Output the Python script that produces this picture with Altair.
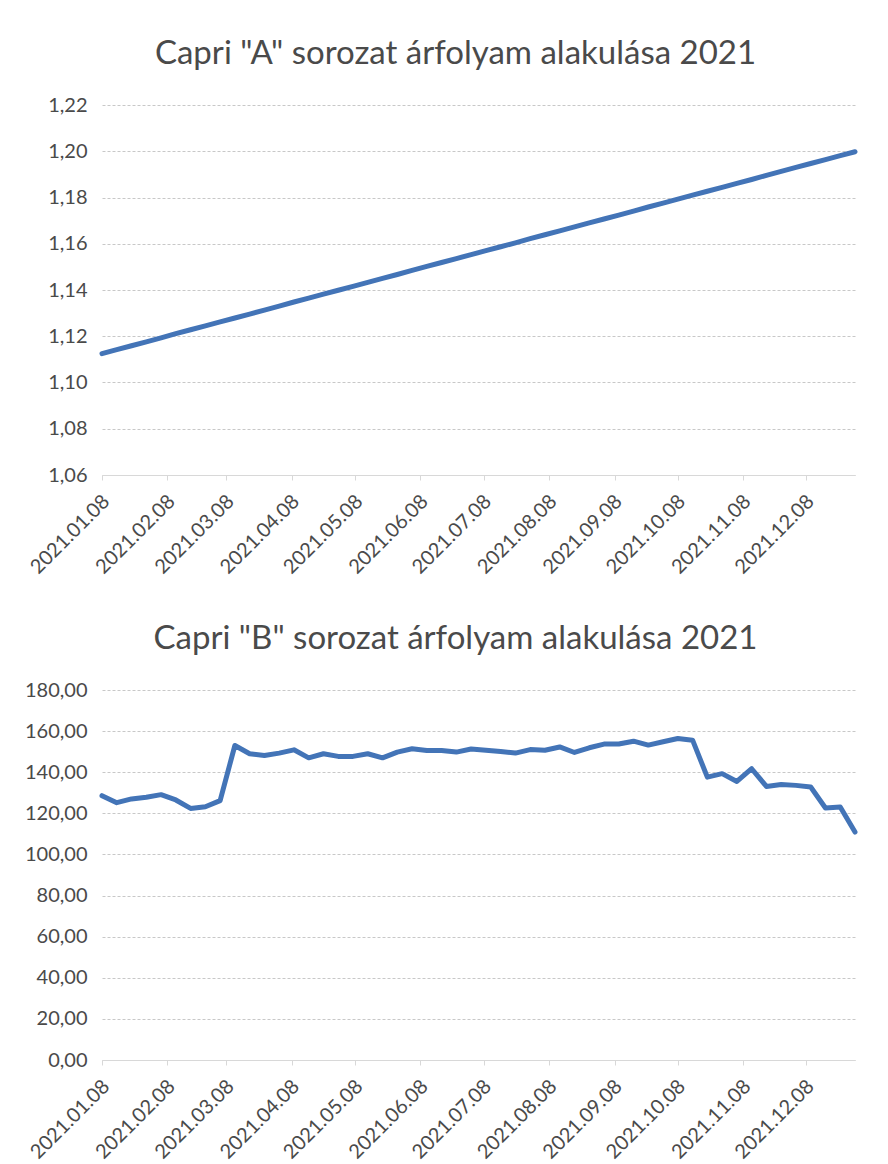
import altair as alt
import pandas as pd

# Weekly dates (Fridays) 2021-01-08 .. 2021-12-31
dates = [d.strftime("%Y-%m-%dT00:00:00") for d in pd.date_range("2021-01-08", periods=52, freq="7D")]

series_a = [
    1.1125, 1.1142, 1.1159, 1.1176, 1.1193, 1.1211, 1.1228, 1.1245, 1.1262, 1.1279,
    1.1296, 1.1313, 1.1330, 1.1348, 1.1365, 1.1382, 1.1399, 1.1416, 1.1433, 1.1450,
    1.1467, 1.1485, 1.1502, 1.1519, 1.1536, 1.1553, 1.1570, 1.1587, 1.1604, 1.1622,
    1.1639, 1.1656, 1.1673, 1.1690, 1.1707, 1.1724, 1.1741, 1.1759, 1.1776, 1.1793,
    1.1810, 1.1827, 1.1844, 1.1861, 1.1878, 1.1896, 1.1913, 1.1930, 1.1947, 1.1964,
    1.1981, 1.1998,
]

series_b = [
    128.6, 125.2, 127.0, 127.8, 129.1, 126.5, 122.4, 123.2, 126.2, 153.0,
    149.0, 148.1, 149.3, 150.9, 147.0, 149.0, 147.7, 147.7, 149.0, 147.0,
    149.8, 151.4, 150.6, 150.6, 149.8, 151.3, 150.7, 150.1, 149.3, 151.0,
    150.7, 152.3, 149.6, 151.9, 153.7, 153.7, 155.1, 153.2, 154.8, 156.4,
    155.6, 137.6, 139.3, 135.5, 141.7, 133.1, 134.0, 133.6, 132.8, 122.6,
    123.1, 110.9,
]

title_a = 'Capri "A" sorozat árfolyam alakulása 2021'
title_b = 'Capri "B" sorozat árfolyam alakulása 2021'

ticks_a = [1.06, 1.08, 1.10, 1.12, 1.14, 1.16, 1.18, 1.20, 1.22]
ticks_b = [0, 20, 40, 60, 80, 100, 120, 140, 160, 180]
label_months = list(range(1, 13))

FONT = "Lato"
TEXT = "#4a4a4a"
LINE = "#4374B7"

df_a = pd.DataFrame({"date": dates, "value": series_a})
df_b = pd.DataFrame({"date": dates, "value": series_b})

x_enc = alt.X(
    "date:T",
    scale=alt.Scale(domain=[alt.DateTime(year=2021, month=1, date=8),
                            alt.DateTime(year=2021, month=12, date=31)]),
    axis=alt.Axis(
        title=None,
        values=[alt.DateTime(year=2021, month=m, date=8) for m in label_months],
        format="%Y.%m.%d",
        labelAngle=-45,
        labelAlign="right",
        labelBaseline="middle",
        labelFontSize=20,
        labelColor=TEXT,
        labelFont=FONT,
        labelPadding=18,
        labelOffset=4,
        grid=False,
        domain=True,
        domainColor="#d8d8d8",
        ticks=True,
        tickColor="#d8d8d8",
        tickSize=5,
        minExtent=110,
        maxExtent=110,
        labelOverlap=False,
    ),
)


def y_enc(ticks, lo, hi):
    return alt.Y(
        "value:Q",
        scale=alt.Scale(domain=[lo, hi], nice=False, zero=False),
        axis=alt.Axis(
            title=None,
            values=ticks,
            labelExpr="replace(format(datum.value, '.2f'), '.', ',')",
            labelFontSize=20,
            labelColor=TEXT,
            labelFont=FONT,
            labelPadding=15,
            domain=False,
            ticks=False,
            grid=True,
            gridColor="#c8c8c8",
            gridDash=[3, 2],
            gridWidth=1,
            minExtent=80,
            maxExtent=80,
        ),
    )


def make(df, title, ticks, lo, hi):
    return (
        alt.Chart(df)
        .mark_line(color=LINE, strokeWidth=5, strokeCap="round", strokeJoin="round")
        .encode(x=x_enc, y=y_enc(ticks, lo, hi))
        .properties(
            width=753,
            height=370,
            title=alt.TitleParams(
                title, font=FONT, fontSize=33, fontWeight="normal", color=TEXT,
                anchor="middle", dx=-23, offset=24,
            ),
        )
    )


chart_a = make(df_a, title_a, ticks_a, 1.06, 1.22)
chart_b = make(df_b, title_b, ticks_b, 0, 180)

chart = (
    alt.vconcat(chart_a, chart_b, spacing=38)
    .properties(padding={"left": 14, "top": 30, "right": 5, "bottom": 5},
                background="white")
    .configure_view(strokeWidth=0, stroke=None)
)

chart.save("out.html", embed_options={"renderer": "svg", "actions": False})
